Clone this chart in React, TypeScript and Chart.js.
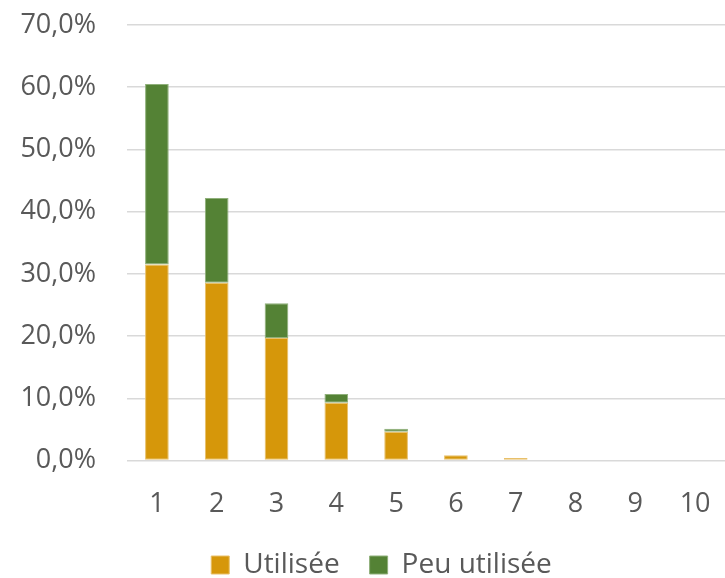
import React, { useEffect, useRef } from "react";
import { Chart, registerables } from "chart.js";

Chart.register(...registerables);

const categories = ["1", "2", "3", "4", "5", "6", "7", "8", "9", "10"];
const utilisee = [31.5, 28.6, 19.7, 9.3, 4.65, 0.85, 0.43, 0, 0, 0];
const peuUtilisee = [29.0, 13.6, 5.6, 1.4, 0.45, 0, 0, 0, 0, 0];
const seriesNames = ["Utilisée", "Peu utilisée"];
const yMax = 70;
const yStep = 10;

const FONT = "'Open Sans', 'Noto Sans', sans-serif";
const TEXT = "#595959";

const legendShift = {
  id: "legendShift",
  afterLayout(chart: any) {
    const l = chart.legend;
    if (!l) return;
    const dx = 19;
    const dy = -28;
    l.left += dx;
    l.right += dx;
    l.top += dy;
    l.bottom += dy;
  },
};

export default function App() {
  const ref = useRef<HTMLCanvasElement | null>(null);
  useEffect(() => {
    document.body.style.margin = "0";
    if (!ref.current) return;
    const chart = new Chart(ref.current, {
      type: "bar",
      data: {
        labels: categories,
        datasets: [
          {
            label: seriesNames[0],
            data: utilisee,
            backgroundColor: "#D6970A",
            borderColor: "#E8C06A",
            borderWidth: 1,
            borderSkipped: false,
            barPercentage: 0.396,
            categoryPercentage: 1,
          },
          {
            label: seriesNames[1],
            data: peuUtilisee,
            backgroundColor: "#548235",
            borderColor: "#8FB07A",
            borderWidth: 1,
            borderSkipped: false,
            barPercentage: 0.396,
            categoryPercentage: 1,
          },
        ],
      },
      plugins: [legendShift],
      options: {
        animation: false,
        responsive: false,
        maintainAspectRatio: false,
        layout: { padding: { top: 25, left: 0, right: 0, bottom: -39 } },
        plugins: {
          legend: {
            position: "bottom",
            labels: {
              color: TEXT,
              font: { family: FONT, size: 28 },
              boxWidth: 18,
              boxHeight: 18,
              padding: 30,
            },
          },
          tooltip: { enabled: false },
        },
        scales: {
          x: {
            stacked: true,
            grid: { display: false, drawTicks: false },
            border: { display: false },
            afterFit: (s: any) => {
              s.paddingLeft = 0;
              s.paddingRight = 0;
            },
            ticks: { color: TEXT, font: { family: FONT, size: 27 }, padding: 28 },
          },
          y: {
            stacked: true,
            min: 0,
            max: yMax,
            grid: { color: "#d9d9d9", lineWidth: 1.5, drawTicks: false },
            border: { display: false },
            afterFit: (s: any) => {
              s.width = 127;
              s.paddingTop = 0;
              s.paddingBottom = 0;
            },
            ticks: {
              stepSize: yStep,
              color: TEXT,
              padding: 31,
              font: { family: FONT, size: 27 },
              callback: (v: any) => Number(v).toFixed(1).replace(".", ",") + "%",
            },
          },
        },
      },
    });
    return () => chart.destroy();
  }, []);
  return (
    <div style={{ position: "fixed", left: 0, top: 0, width: 725, height: 578 }}>
      <canvas ref={ref} width={725} height={578} style={{ width: 725, height: 578 }} />
    </div>
  );
}
